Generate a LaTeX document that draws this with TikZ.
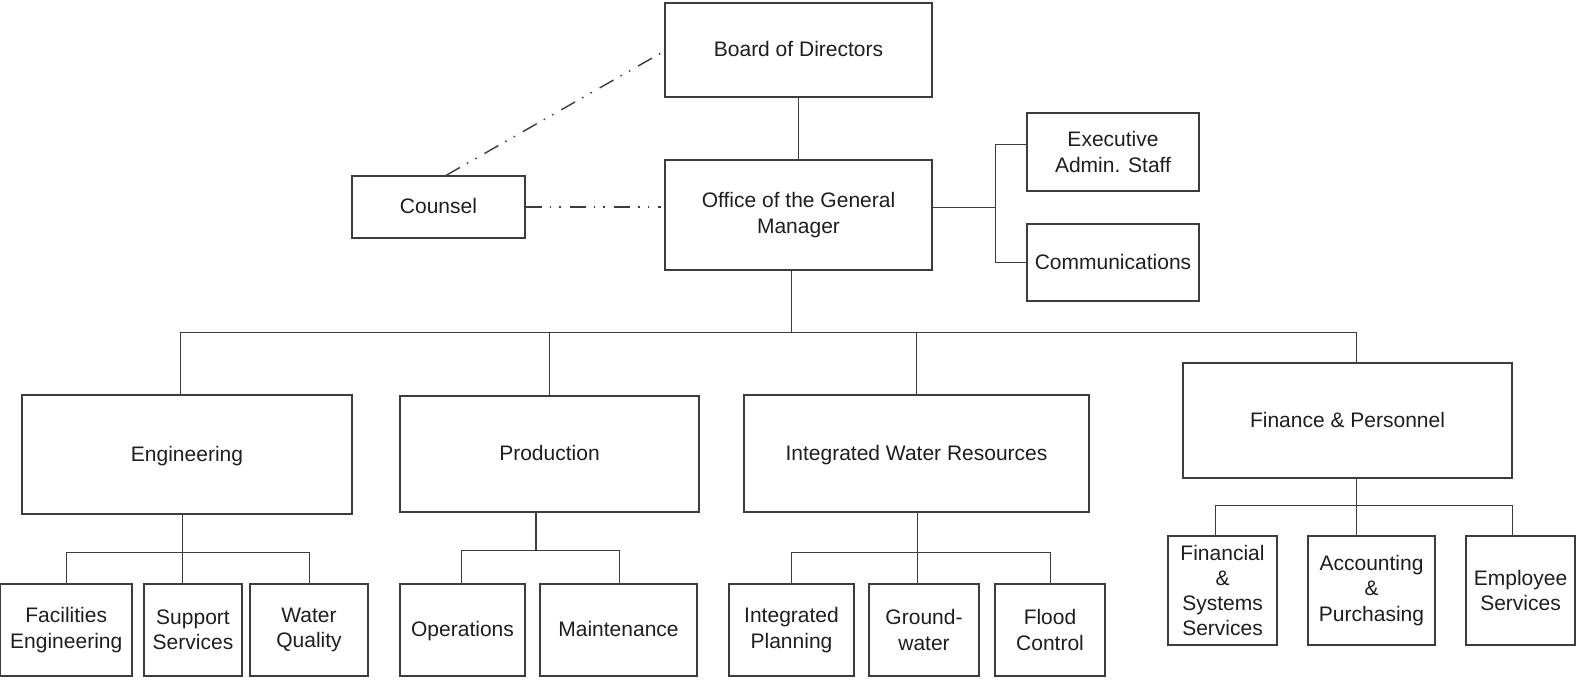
\documentclass[tikz,border=0pt]{standalone}
\usepackage{fontspec}
\setmainfont{Liberation Sans}
\definecolor{lineC}{RGB}{60,60,60}
\definecolor{textC}{RGB}{30,30,30}
\begin{document}
\begin{tikzpicture}[x=0.5pt,y=-0.5pt,
  box/.style={draw=lineC, line width=0.6pt, inner sep=0pt, align=center, text=textC,
    font=\fontsize{10.5pt}{12.6pt}\selectfont},
  one/.style={text height=7.6pt, text depth=0.8pt},
  conn/.style={draw=lineC, line width=0.5pt},
  dd/.style={draw=lineC, line width=0.7pt, dash pattern=on 8pt off 4pt on 0.8pt off 4pt on 0.8pt off 4.5pt}]
\useasboundingbox (0,0) rectangle (1583,681);
% top level
\node[box, one, minimum width=133.5pt, minimum height=47pt] (board) at (798.5,50) {Board of Directors};
\node[box, minimum width=133.5pt, minimum height=55pt] (gm) at (798.5,215) {Office of the General\\Manager};
\node[box, one, minimum width=86.5pt, minimum height=31pt] (counsel) at (438.5,207) {Counsel};
\node[box, minimum width=86pt, minimum height=39pt] (exec) at (1113,152) {Executive\\Admin. Staff};
\node[box, one, minimum width=86pt, minimum height=38.5pt] (comm) at (1113,262.5) {Communications};
% departments
\node[box, one, minimum width=165pt, minimum height=59.5pt] (eng) at (187,454.5) {Engineering};
\node[box, one, minimum width=149.5pt, minimum height=58pt] (prod) at (549.5,454) {Production};
\node[box, one, minimum width=172.5pt, minimum height=58.5pt] (iwr) at (916.5,453.5) {Integrated Water Resources};
\node[box, one, minimum width=164.5pt, minimum height=57.5pt] (fin) at (1347.5,420.5) {Finance \& Personnel};
% engineering units
\node[box, minimum width=65.75pt, minimum height=46pt] (fac) at (66.25,630) {Facilities\\Engineering};
\node[box, minimum width=49pt, minimum height=46pt] (sup) at (193,630) {Support\\Services};
\node[box, minimum width=59pt, minimum height=46pt] (wq) at (309,630) {Water\\Quality};
% production units
\node[box, one, minimum width=62.5pt, minimum height=46pt] (ops) at (462.5,630) {Operations};
\node[box, one, minimum width=78.5pt, minimum height=46pt] (mnt) at (618.5,630) {Maintenance};
% iwr units
\node[box, minimum width=62.5pt, minimum height=46pt] (ip) at (791.5,630) {Integrated\\Planning};
\node[box, minimum width=55pt, minimum height=46pt] (gw) at (924,630) {Ground-\\water};
\node[box, minimum width=55pt, minimum height=46pt] (fc) at (1050,630) {Flood\\Control};
% finance units
\node[box, minimum width=54.5pt, minimum height=54.5pt] (fss) at (1222.5,590.5) {Financial\\\&\\Systems\\Services};
\node[box, minimum width=63.5pt, minimum height=54.5pt] (acc) at (1371.5,590.5) {Accounting\\\&\\Purchasing};
\node[box, minimum width=54.5pt, minimum height=54.5pt] (emp) at (1520.5,590.5) {Employee\\Services};
% coordinates
\coordinate (gmT) at (791,332);
\coordinate (bL) at (180,332);
\coordinate (bR) at (1356,332);
\coordinate (rT) at (995,207);
\coordinate (rA) at (995,144);
\coordinate (rB) at (995,262);
\coordinate (eT) at (182,552);
\coordinate (pT) at (536,550);
\coordinate (pL) at (461,550);
\coordinate (pR) at (619,550);
\coordinate (iT) at (917,552);
\coordinate (fT) at (1356,505);
\coordinate (fL) at (1215,505);
\coordinate (fR) at (1512,505);
\coordinate (cA) at (446,176);
\coordinate (cB) at (661,53);
\coordinate (cC) at (661,207);
% connectors
\draw[conn] (board) -- (gm);
\draw[conn] (gm.south -| gmT) -- (gmT);
\draw[conn] (eng.north -| bL) -- (bL) -- (bR) -- (fin.north -| bR);
\draw[conn] (prod.north) -- (prod.north |- bL);
\draw[conn] (iwr.north) -- (iwr.north |- bL);
\draw[conn] (gm.east |- rT) -- (rT);
\draw[conn] (exec.west |- rA) -- (rA) -- (rB) -- (comm.west |- rB);
% engineering
\draw[conn] (eng.south -| eT) -- (sup.north -| eT);
\draw[conn] (fac.north) |- (wq.north |- eT) -- (wq.north);
% production
\draw[conn, line width=0.8pt] (prod.south -| pT) -- (pT);
\draw[conn] (ops.north -| pL) -- (pL) -- (pR) -- (mnt.north -| pR);
% iwr
\draw[conn] (iwr.south -| iT) -- (gw.north -| iT);
\draw[conn] (ip.north) |- (fc.north |- iT) -- (fc.north);
% finance
\draw[conn] (fin.south -| fT) -- (acc.north -| fT);
\draw[conn] (fss.north -| fL) -- (fL) -- (fR) -- (emp.north -| fR);
% counsel
\draw[dd] (counsel.north -| cA) -- (cB);
\draw[dd, line width=1.1pt] (counsel.east) -- (cC);
\end{tikzpicture}
\end{document}
